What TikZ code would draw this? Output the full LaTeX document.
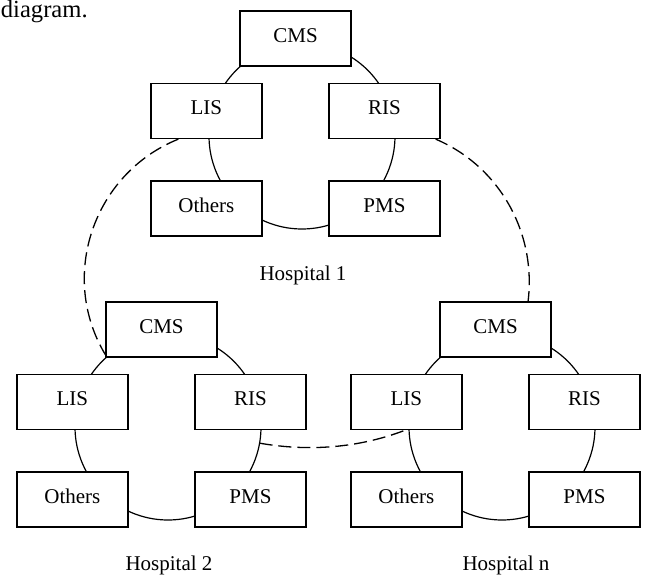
\documentclass[tikz,border=0pt]{standalone}
\usepackage{fontspec}
\setmainfont{Liberation Serif}
\usetikzlibrary{calc}
\begin{document}
\begin{tikzpicture}[x=0.5pt,y=0.5pt,
  sysbox/.style={draw, fill=white, line width=0.65pt, minimum width=55.5pt,
    minimum height=27.5pt, inner sep=0pt, font=\fontsize{10.5}{12}\selectfont,
    text height=1.5ex, text depth=0.7ex},
  ring/.style={line width=0.6pt},
  link/.style={line width=0.65pt, dash pattern=on 6.5pt off 3pt},
  caption/.style={font=\fontsize{10.5}{12}\selectfont}]
\useasboundingbox (0,0) rectangle (648,-577);

% fragment of preceding text
\node[anchor=base west, inner sep=0pt, font=\fontsize{12.3}{14}\selectfont] (frag) at (0.5,-17.5) {diagram.};

% Hospital 1 (dx=0, dy=0), Hospital 2 (dx=-134, dy=-291), Hospital n (dx=200, dy=-291)
\foreach \id/\dx/\dy in {a/0/0, b/-134/-291, c/200/-291}{
  \begin{scope}[shift={(\dx,\dy)}]
    \coordinate (\id-ctr) at (302,-136);
    \draw[ring] (\id-ctr) circle[radius=93];
    \node[sysbox] (\id-cms) at (295.5,-38.5) {CMS};
    \node[sysbox] (\id-lis) at (206.4,-111) {LIS};
    \node[sysbox] (\id-ris) at (384.5,-111) {RIS};
    \node[sysbox] (\id-oth) at (206.4,-208.5) {Others};
    \node[sysbox] (\id-pms) at (384.5,-208.5) {PMS};
    \coordinate (\id-ringE) at ($(\id-ctr)+(-10:93)$);
  \end{scope}
}

\node[caption] (cap1) at (303,-275) {Hospital 1};
\node[caption] (cap2) at (169,-565) {Hospital 2};
\node[caption] (capn) at (506,-565) {Hospital n};

% dashed inter-hospital links
\coordinate (l1) at ($(a-lis.south west)!0.25!(a-lis.south east)$);
\coordinate (l2) at ($(b-cms.south west)+(0,3)$);
\draw[link] (l1) to[out=202, in=121, looseness=1.03] (l2);

\coordinate (r1) at ($(a-ris.south east)+(-5,0)$);
\coordinate (r2) at ($(c-cms.north west)!0.79!(c-cms.north east)$);
\draw[link] (r1) to[out=-23, in=83, looseness=0.95] (r2);

\coordinate (m2) at ($(c-lis.south west)!0.49!(c-lis.south east)$);
\draw[link] (b-ringE) to[out=-10, in=201, looseness=0.87] (m2);
\end{tikzpicture}
\end{document}
